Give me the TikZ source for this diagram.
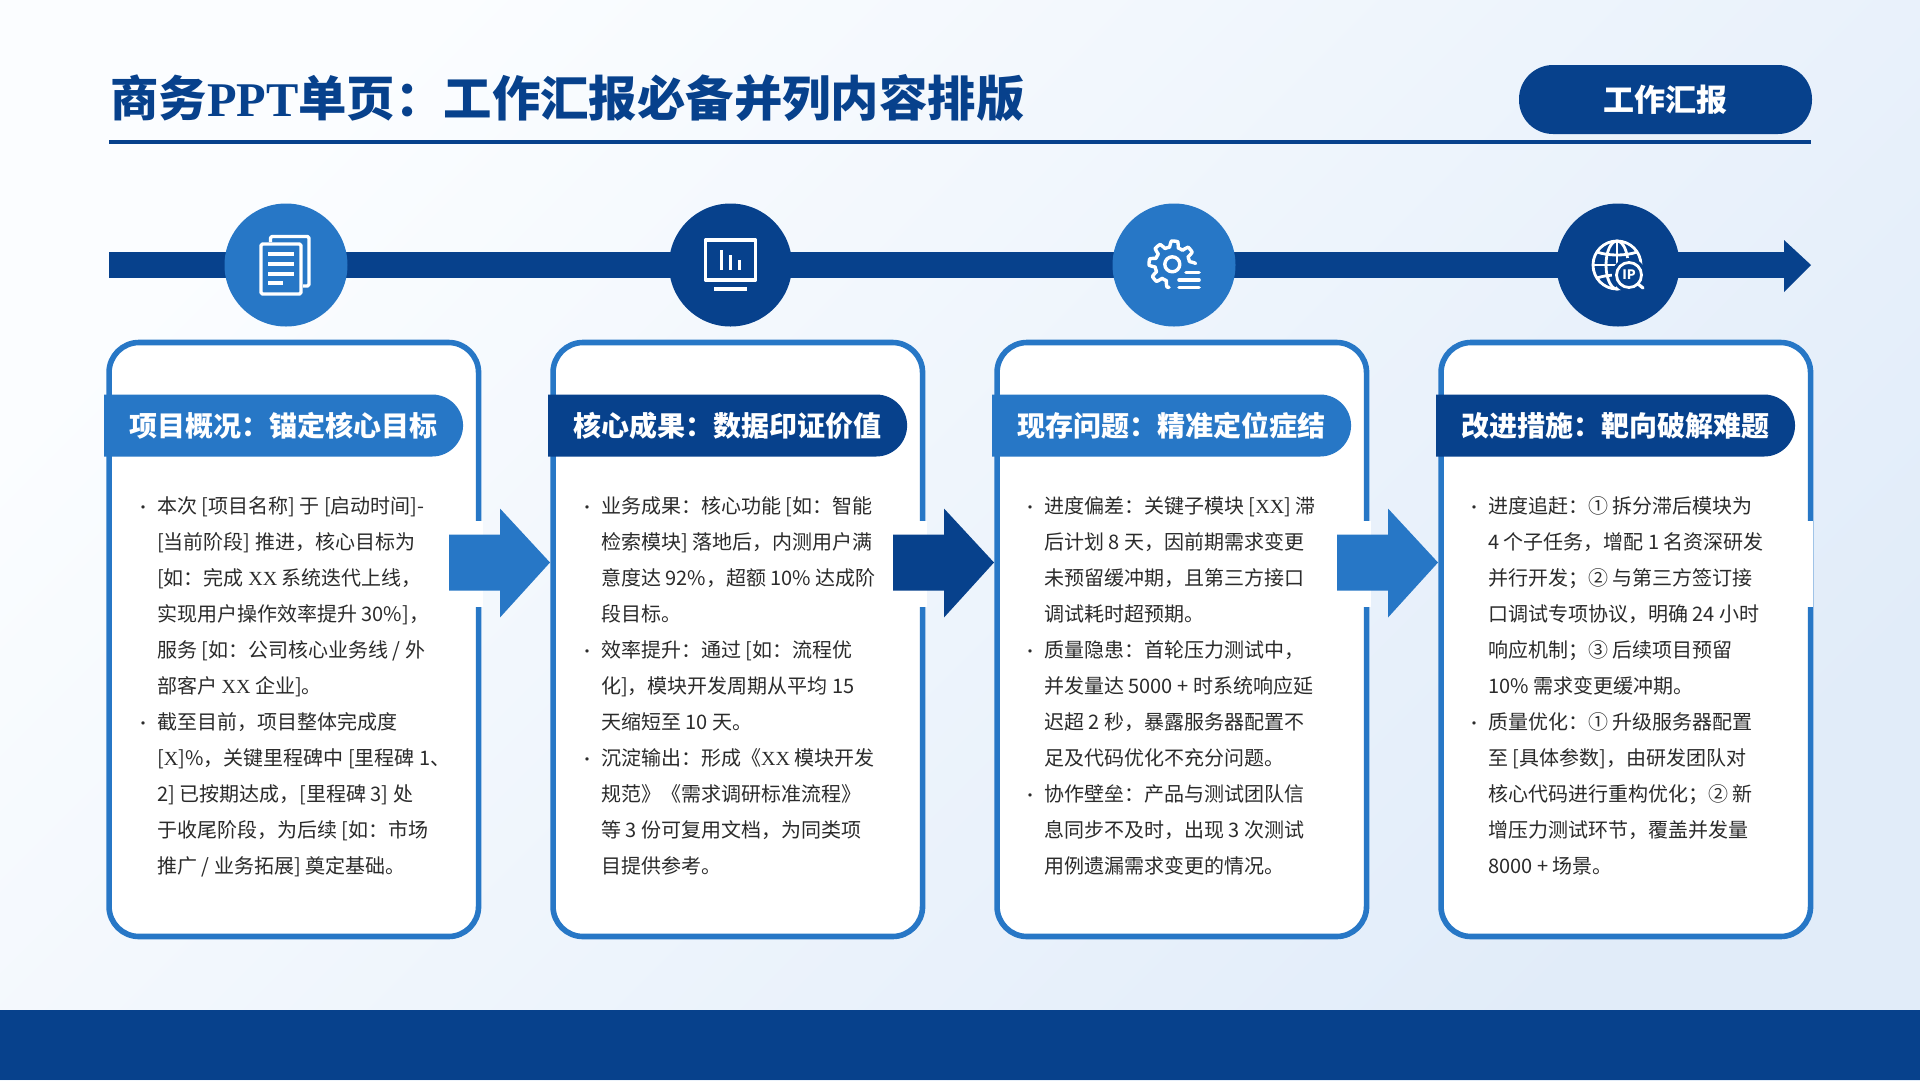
\documentclass[tikz,border=0pt]{standalone}
\usepackage{fontspec}
\usetikzlibrary{shapes.misc,calc}
\setmainfont{Noto Sans CJK SC}
\newfontfamily\ser{Liberation Serif}
\definecolor{navy}{HTML}{07418C}
\definecolor{azure}{HTML}{2777C6}
\definecolor{bodyink}{HTML}{2B2B2B}
\definecolor{bgstart}{HTML}{FBFDFF}
\definecolor{bgend}{HTML}{E1ECF9}
\newcommand{\bl}{\leavevmode\llap{\scalebox{0.8}{·}\hspace{6pt}}}
\newcommand{\xx}{{\ser XX}}
\newcommand{\cln}{\char"FF1A\relax}
\newcommand{\cma}{\char"FF0C\relax}
\newcommand{\smc}{\char"FF1B\relax}
\tikzset{
  circ/.style={circle,minimum size=123pt,inner sep=0pt,draw=none},
  cardbox/.style={rectangle,draw=azure,fill=white,line width=5.6pt,rounded corners=30pt,minimum width=369.5pt,minimum height=594pt,inner sep=0pt},
  headbar/.style={rounded rectangle,rounded rectangle west arc=none,minimum width=359pt,minimum height=62pt,inner sep=0pt,text=white,font=\fontsize{28}{30}\selectfont\bfseries},
  bodytext/.style={anchor=north west,inner sep=0pt,align=left,text=bodyink,font=\fontsize{20}{36}\selectfont},
  iconline/.style={draw=white,line width=3.4pt,line join=round},
  gapbox/.style={fill=white,draw=none}
}
\begin{document}
\begin{tikzpicture}[x=1pt,y=-1pt]
\useasboundingbox (0,0) rectangle (1920,1080);
% background
\shade[top color=bgstart,bottom color=bgend,shading angle=45] (0,0) rectangle (1920,1080);
\fill[navy] (0,1010) rectangle (1920,1080);
% title
\node[anchor=west,inner sep=0pt,text=navy,font=\fontsize{48.4}{50}\selectfont\bfseries] (title) at (110,98) {商务{\ser PPT}单页\cln 工作汇报必备并列内容排版};
\coordinate (ruleL) at (109,142);
\coordinate (ruleR) at (1810.5,142);
\draw[navy,line width=4pt] (ruleL) -- (ruleR);
\node[rectangle,fill=navy,rounded corners=34pt,minimum width=293pt,minimum height=69pt,inner sep=0pt,text=white,font=\fontsize{31}{33}\selectfont\bfseries] (pill) at (1665.5,99.5) {工作汇报};
% timeline
\coordinate (tlstart) at (109,265);
\coordinate (tlhead) at (1784,265);
\draw[navy,line width=26pt] (tlstart) -- (tlhead);
\fill[navy] (tlhead) ++(0,-25) -- ++(27,25) -- ++(-27,27) -- cycle;
% circles
\node[circ,fill=azure] (circ1) at (286,265) {};
\node[circ,fill=navy] (circ2) at (730.5,265) {};
\node[circ,fill=azure] (circ3) at (1174,265) {};
\node[circ,fill=navy] (circ4) at (1618,265) {};
% icon 1: documents
\begin{scope}[shift={(circ1.center)}]
  \draw[iconline,rounded corners=1.5pt] (-15.5,-23) -- (-15.5,-28.5) -- (23,-28.5) -- (23,21) -- (17,21);
  \draw[iconline,rounded corners=1.5pt] (-25,-21) rectangle (15,29);
  \draw[iconline] (-18,-11) -- (8,-11) (-18,-1) -- (8,-1) (-18,9) -- (8,9) (-18,18) -- (-3,18);
\end{scope}
% icon 2: monitor
\begin{scope}[shift={(circ2.center)}]
  \draw[iconline] (-25,-25) rectangle (25,15);
  \draw[iconline,line width=3pt] (-9,5) -- (-9,-15) (0,5) -- (0,-10) (9,5) -- (9,-5);
  \draw[iconline,line width=4.5pt] (-16.5,24) -- (16.5,24);
\end{scope}
% icon 3: gear
\begin{scope}[shift={(circ3.center)}]
  \draw[iconline,line width=3.4pt] (-1.7,-0.7) circle (7.5);
  \begin{scope}[shift={(-1.7,-0.7)}]
    \draw[iconline,line width=3.4pt,line cap=round] plot[domain=98:358,samples=260] (\x:{20.3+3*max(-1,min(1,2.2*sin(8*\x+45)))});
  \end{scope}
  \draw[iconline,line width=3.6pt,line cap=round] (12,7.5) -- (25,7.5) (5,15) -- (25,15) (5,22.5) -- (25,22.5);
\end{scope}
% icon 4: globe with magnifier
\begin{scope}[shift={(circ4.center)}]
  \draw[iconline,line width=2.8pt] (-1,0) circle (24);
  \draw[iconline,line width=2.8pt] (-1,0) ellipse (11 and 24);
  \draw[iconline,line width=2.8pt] (-1,-24) -- (-1,24) (-25,0) -- (23,0);
  \draw[iconline,line width=2.8pt] (-21,-13) .. controls (-10,-9) and (8,-9) .. (19,-13);
  \draw[iconline,line width=2.8pt] (-21,13) .. controls (-10,9) and (8,9) .. (19,13);
  \fill[navy] (11,10) circle (17);
  \draw[iconline,line width=2.8pt] (11,10) circle (12.5);
  \draw[iconline,line width=3.2pt,line cap=round] (20,19) -- (25,23);
  \node[inner sep=0pt,text=white,font=\fontsize{13}{14}\selectfont\bfseries] (iptext) at (11,10) {IP};
\end{scope}
% cards
\node[cardbox] (card1) at (293.8,639.5) {};
\node[cardbox] (card2) at (737.8,639.5) {};
\node[cardbox] (card3) at (1181.8,639.5) {};
\node[cardbox] (card4) at (1625.8,639.5) {};
% gaps in the right borders
\fill[gapbox] (475,521) rectangle (483,606.5);
\fill[gapbox] (919,521) rectangle (927,606.5);
\fill[gapbox] (1363,521) rectangle (1371,606.5);
\fill[gapbox] (1806.5,521) rectangle (1813,606.5);
% headers
\node[headbar,fill=azure] (head1) at (282,425.5) {\hspace{3pt}项目概况\cln 锚定核心目标};
\node[headbar,fill=navy] (head2) at (726,425.5) {\hspace{3pt}核心成果\cln 数据印证价值};
\node[headbar,fill=azure] (head3) at (1170,425.5) {\hspace{3pt}现存问题\cln 精准定位症结};
\node[headbar,fill=navy] (head4) at (1614,425.5) {\hspace{3pt}改进措施\cln 靶向破解难题};
% body
\node[bodytext] (body1) at (157,496) {\bl 本次 [项目名称] 于 [启动时间]-\\{}%
[当前阶段] 推进\cma 核心目标为\\{}%
[如\cln 完成 \xx{} 系统迭代上线\cma\\
实现用户操作效率提升 30\%]\cma\\
服务 [如\cln 公司核心业务线 / 外\\
部客户 \xx{} 企业]。\\
\bl 截至目前\cma 项目整体完成度\\{}%
[{\ser X}]\%\cma 关键里程碑中 [里程碑 1、\\
2] 已按期达成\cma [里程碑 3] 处\\
于收尾阶段\cma 为后续 [如\cln 市场\\
推广 / 业务拓展] 奠定基础。};
\node[bodytext] (body2) at (601,496) {\bl 业务成果\cln 核心功能 [如\cln 智能\\
检索模块] 落地后\cma 内测用户满\\
意度达 92\%\cma 超额 10\% 达成阶\\
段目标。\\
\bl 效率提升\cln 通过 [如\cln 流程优\\
化]\cma 模块开发周期从平均 15\\
天缩短至 10 天。\\
\bl 沉淀输出\cln 形成《\xx{} 模块开发\\
规范》《需求调研标准流程》\\
等 3 份可复用文档\cma 为同类项\\
目提供参考。};
\node[bodytext] (body3) at (1044,496) {\bl 进度偏差\cln 关键子模块 [\xx] 滞\\
后计划 8 天\cma 因前期需求变更\\
未预留缓冲期\cma 且第三方接口\\
调试耗时超预期。\\
\bl 质量隐患\cln 首轮压力测试中\cma\\
并发量达 5000 + 时系统响应延\\
迟超 2 秒\cma 暴露服务器配置不\\
足及代码优化不充分问题。\\
\bl 协作壁垒\cln 产品与测试团队信\\
息同步不及时\cma 出现 3 次测试\\
用例遗漏需求变更的情况。};
\node[bodytext] (body4) at (1488,496) {\bl 进度追赶\cln ① 拆分滞后模块为\\
4 个子任务\cma 增配 1 名资深研发\\
并行开发\smc ② 与第三方签订接\\
口调试专项协议\cma 明确 24 小时\\
响应机制\smc ③ 后续项目预留\\
10\% 需求变更缓冲期。\\
\bl 质量优化\cln ① 升级服务器配置\\
至 [具体参数]\cma 由研发团队对\\
核心代码进行重构优化\smc ② 新\\
增压力测试环节\cma 覆盖并发量\\
8000 + 场景。};
% block arrows between the cards
\coordinate (ar1) at (449,562.5);
\coordinate (ar2) at (893,562.5);
\coordinate (ar3) at (1337,562.5);
\foreach \a/\c in {ar1/azure,ar2/navy,ar3/azure}{
  \fill[\c] (\a) ++(0,-28) -- ++(51,0) -- ++(0,-26) -- ++(50,54) -- ++(-50,55) -- ++(0,-27) -- ++(-51,0) -- cycle;
}
\end{tikzpicture}
\end{document}
